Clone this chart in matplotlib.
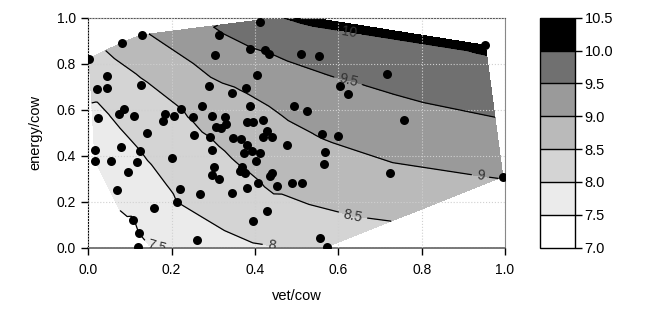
import matplotlib
matplotlib.use("Agg")
import matplotlib.pyplot as plt
import matplotlib.tri as mtri
from matplotlib.colors import ListedColormap, BoundaryNorm

plt.rcParams["font.family"] = ["Liberation Sans", "DejaVu Sans"]

# sampled herds: vet cost, energy cost and the interpolated response
vet = [0.002, 0.081, 0.128, 0.314, 0.303, 0.044, 0.020, 0.045, 0.126, 0.290,
       0.024, 0.086, 0.074, 0.110, 0.184, 0.179, 0.206, 0.222, 0.274, 0.252,
       0.296, 0.329, 0.141, 0.254, 0.292, 0.306, 0.318, 0.330, 0.346, 0.412,
       0.388, 0.424, 0.434, 0.510, 0.554, 0.406, 0.378, 0.604, 0.623, 0.389,
       0.494, 0.525, 0.380, 0.396, 0.420, 0.428, 0.419, 0.440, 0.560, 0.600,
       0.953, 0.717, 0.757, 0.017, 0.016, 0.078, 0.054, 0.116, 0.125, 0.095,
       0.200, 0.296, 0.302, 0.297, 0.314, 0.070, 0.220, 0.269, 0.344, 0.212,
       0.158, 0.108, 0.121, 0.120, 0.262, 0.348, 0.367, 0.381, 0.373, 0.394,
       0.412, 0.402, 0.476, 0.568, 0.565, 0.368, 0.363, 0.375, 0.442, 0.435,
       0.408, 0.382, 0.453, 0.489, 0.512, 0.428, 0.396, 0.557, 0.572, 0.724,
       0.995, 0.500]
energy = [0.822, 0.892, 0.925, 0.925, 0.838, 0.748, 0.688, 0.694, 0.708, 0.703,
          0.564, 0.601, 0.581, 0.572, 0.581, 0.550, 0.572, 0.601, 0.616, 0.568,
          0.574, 0.570, 0.498, 0.490, 0.480, 0.524, 0.518, 0.537, 0.672, 0.981,
          0.862, 0.861, 0.842, 0.841, 0.832, 0.749, 0.696, 0.703, 0.667, 0.616,
          0.614, 0.594, 0.548, 0.544, 0.554, 0.505, 0.482, 0.482, 0.494, 0.485,
          0.880, 0.753, 0.554, 0.424, 0.378, 0.439, 0.378, 0.374, 0.421, 0.330,
          0.389, 0.424, 0.349, 0.315, 0.297, 0.250, 0.253, 0.233, 0.236, 0.199,
          0.171, 0.120, 0.063, 0.003, 0.033, 0.475, 0.472, 0.446, 0.413, 0.422,
          0.413, 0.375, 0.446, 0.417, 0.362, 0.350, 0.331, 0.326, 0.326, 0.311,
          0.282, 0.260, 0.268, 0.282, 0.282, 0.160, 0.117, 0.040, 0.003, 0.323,
          0.308, 1.010]
value = [8.30, 8.70, 8.94, 9.46, 9.23, 8.29, 8.09, 8.19, 8.43, 8.91,
         7.89, 8.16, 8.09, 8.18, 8.40, 8.35, 8.43, 8.49, 8.70, 8.53,
         8.68, 8.75, 8.17, 8.43, 8.50, 8.62, 8.64, 8.70, 8.95, 9.86,
         9.47, 9.53, 9.49, 9.62, 9.66, 9.24, 9.04, 9.43, 9.39, 8.92,
         9.11, 9.14, 8.81, 8.83, 8.89, 8.84, 8.79, 8.83, 9.03, 9.06,
         10.08, 9.64, 9.32, 7.68, 7.61, 7.88, 7.71, 7.91, 8.00, 7.77,
         8.20, 8.43, 8.35, 8.29, 8.30, 7.57, 8.08, 8.13, 8.27, 8.00,
         7.76, 7.49, 7.50, 7.42, 7.85, 8.64, 8.68, 8.66, 8.60, 8.66,
         8.68, 8.61, 8.83, 8.92, 8.84, 8.50, 8.45, 8.47, 8.64, 8.60,
         8.48, 8.38, 8.59, 8.63, 8.66, 8.31, 8.16, 8.25, 8.20, 8.92,
         9.02, 10.08]

levels = [7.0, 7.5, 8.0, 8.5, 9.0, 9.5, 10.0, 10.5]
band_colors = ["#ffffff", "#ebebeb", "#d4d4d4", "#bababa",
               "#9a9a9a", "#707070", "#000000"]
tick_vals = [0.0, 0.2, 0.4, 0.6, 0.8, 1.0]

fig = plt.figure(figsize=(6.64, 3.10), dpi=100)
ax = fig.add_axes([0.133, 0.2016, 0.6275, 0.7413])
cax = fig.add_axes([0.8133, 0.2016, 0.0527, 0.7413])

tri = mtri.Triangulation(vet, energy)
cmap = ListedColormap(band_colors)
norm = BoundaryNorm(levels, cmap.N)
cf = ax.tricontourf(tri, value, levels=levels, cmap=cmap, norm=norm, zorder=1)

cs = ax.tricontour(tri, value, levels=levels[1:-1], colors="black",
                   linewidths=0.9, zorder=3)
label_pos = [(0.167, 0.03), (0.44, 0.015), (0.632, 0.12),
             (0.94, 0.294), (0.623, 0.72), (0.623, 0.915)]
ax.clabel(cs, fmt=lambda v: f"{v:g}", manual=label_pos, inline=True,
          fontsize=10, colors="#333333")

ax.scatter(vet, energy, s=42, c="black", linewidths=0, zorder=4)

ax.set_xlim(0, 1)
ax.set_ylim(0, 1)
ax.set_xticks(tick_vals)
ax.set_yticks(tick_vals)
ax.set_xticklabels([f"{t:.1f}" for t in tick_vals])
ax.set_yticklabels([f"{t:.1f}" for t in tick_vals])
ax.set_axisbelow(False)
ax.grid(True, color="#d0d0d0", linestyle=":", linewidth=0.8)
ax.tick_params(direction="out", length=5, width=1, labelsize=10)
ax.tick_params(axis="x", pad=6)
ax.tick_params(axis="y", pad=4)
ax.spines["left"].set_color("black")
ax.spines["bottom"].set_color("#777777")
ax.spines["bottom"].set_linewidth(1.4)
ax.spines["top"].set_color("#555555")
ax.spines["right"].set_color("#888888")
ax.set_xlabel("vet/cow", fontsize=10.5, labelpad=9)
ax.set_ylabel("energy/cow", fontsize=10.5, labelpad=10)

cb = fig.colorbar(cf, cax=cax, ticks=levels, drawedges=True)
cb.ax.set_yticklabels([f"{v:.1f}" for v in levels])
cb.ax.tick_params(direction="out", length=5, width=1, labelsize=10.5, pad=2)
cb.outline.set_edgecolor("black")
cb.outline.set_linewidth(1)
cb.dividers.set_color("black")
cb.dividers.set_linewidth(1)

fig.savefig("out.png", dpi=100)
